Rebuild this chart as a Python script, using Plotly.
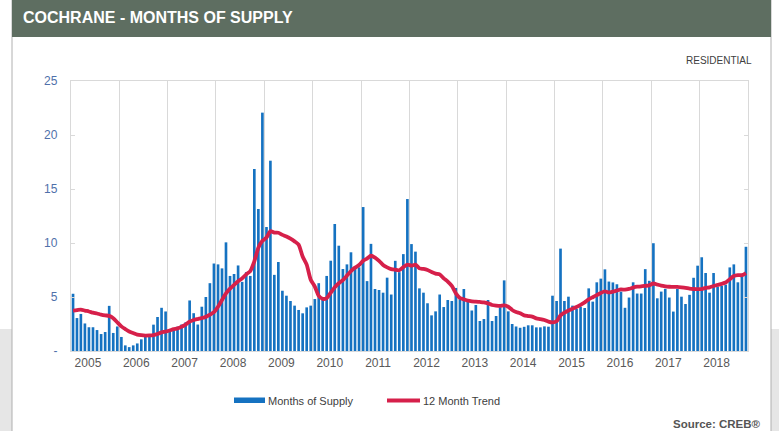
import pandas as pd
import plotly.graph_objects as go

# Cochrane residential months of supply, Jan 2005 - Dec 2018 (one row per year)
years = list(range(2005, 2019))
months_of_supply = [
    5.30, 3.05, 3.43, 2.55, 2.20, 2.20, 1.94, 1.57, 1.76, 4.18, 1.67, 2.27,    # 2005
    1.30, 0.52, 0.36, 0.52, 0.70, 1.08, 1.33, 1.55, 2.44, 3.15, 4.00, 3.66,    # 2006
    2.00, 2.10, 2.25, 2.45, 2.65, 4.68, 3.50, 2.45, 4.10, 5.00, 6.28, 8.10,    # 2007
    8.02, 7.65, 10.06, 6.95, 7.13, 7.92, 6.40, 7.30, 6.95, 16.85, 13.15, 22.07,  # 2008
    11.48, 17.62, 7.05, 8.24, 5.58, 5.12, 4.63, 4.20, 3.80, 3.49, 4.04, 4.20,  # 2009
    4.81, 6.28, 4.80, 6.95, 8.36, 11.76, 9.75, 7.59, 8.02, 9.14, 7.60, 7.75,   # 2010
    13.33, 6.47, 9.92, 5.74, 5.65, 5.40, 6.79, 5.23, 8.35, 7.30, 8.97, 14.07,  # 2011
    9.90, 9.20, 5.80, 5.40, 4.42, 3.30, 3.67, 5.23, 4.07, 4.72, 4.63, 5.84,    # 2012
    4.80, 5.74, 4.55, 3.75, 4.26, 2.78, 2.96, 4.72, 2.78, 3.24, 4.05, 6.54,    # 2013
    3.67, 2.50, 2.27, 2.15, 2.24, 2.38, 2.38, 2.19, 2.19, 2.28, 2.25, 5.12,    # 2014
    4.63, 9.48, 4.63, 5.03, 4.20, 3.89, 4.10, 3.98, 5.80, 4.57, 6.36, 6.70,    # 2015
    7.56, 6.43, 6.35, 6.18, 5.50, 4.00, 4.95, 6.36, 5.32, 5.32, 7.58, 6.50,    # 2016
    9.98, 4.88, 5.50, 5.75, 4.95, 3.65, 5.75, 5.03, 4.35, 5.20, 6.78, 7.90,    # 2017
    8.68, 7.22, 5.40, 7.22, 5.96, 6.04, 6.14, 7.74, 8.02, 6.36, 7.00, 9.65,    # 2018
]
trend_12m = [
    3.73, 3.78, 3.84, 3.74, 3.66, 3.55, 3.47, 3.37, 3.30, 3.25, 3.04, 2.66,    # 2005
    2.28, 2.03, 1.80, 1.66, 1.52, 1.46, 1.43, 1.44, 1.47, 1.57, 1.73, 1.79,    # 2006
    1.90, 2.02, 2.10, 2.25, 2.45, 2.72, 2.87, 2.96, 3.05, 3.16, 3.36, 3.60,    # 2007
    4.10, 4.72, 5.34, 5.77, 6.12, 6.45, 6.73, 7.10, 7.40, 8.30, 9.55, 10.20,   # 2008
    10.50, 11.10, 10.96, 10.95, 10.75, 10.60, 10.40, 10.15, 9.85, 8.75, 8.00, 6.60,  # 2009
    5.96, 5.10, 4.83, 4.90, 5.40, 5.90, 6.27, 6.57, 6.98, 7.40, 7.72, 7.96,    # 2010
    8.36, 8.56, 8.82, 8.65, 8.35, 7.96, 7.74, 7.58, 7.52, 7.48, 7.77, 8.00,    # 2011
    7.90, 8.00, 7.65, 7.60, 7.50, 7.31, 7.16, 7.10, 6.73, 6.42, 6.02, 5.34,    # 2012
    4.91, 4.78, 4.66, 4.60, 4.57, 4.54, 4.50, 4.41, 4.26, 4.20, 4.17, 4.23,    # 2013
    4.10, 3.80, 3.61, 3.49, 3.30, 3.24, 3.18, 3.02, 2.96, 2.87, 2.72, 2.65,    # 2014
    2.75, 3.30, 3.55, 3.75, 3.92, 4.07, 4.27, 4.50, 4.78, 4.98, 5.18, 5.38,    # 2015
    5.52, 5.42, 5.50, 5.60, 5.70, 5.68, 5.75, 5.87, 5.95, 5.98, 6.03, 6.08,    # 2016
    6.25, 6.15, 6.05, 5.99, 5.95, 5.93, 5.94, 5.90, 5.85, 5.78, 5.74, 5.72,    # 2017
    5.74, 5.85, 5.90, 6.02, 6.12, 6.22, 6.34, 6.65, 6.94, 7.02, 7.02, 7.22,    # 2018
]
y_ticks = [0, 5, 10, 15, 20, 25]
y_tick_text = ["-", "5", "10", "15", "20", "25"]

months = pd.date_range(f"{years[0]}-01-01", periods=len(months_of_supply), freq="MS")

# page geometry (pixels) and helpers to place decorations in paper coordinates
W, H = 779, 431
ML, MR, MT, MB = 71, 31, 81, 80
PW, PH = W - ML - MR, H - MT - MB


def px(x):
    return (x - ML) / PW


def py(y):
    return (H - MB - y) / PH


BLUE = "#1572c1"
RED = "#d6204a"
GRID = "#d9d9d9"
TEXT = "#595959"
NARROW = "Liberation Sans Narrow, Arial Narrow, Liberation Sans, Arial, sans-serif"
SANS = "Liberation Sans, Arial, sans-serif"

fig = go.Figure()
fig.add_trace(go.Bar(
    x=months, y=months_of_supply, name="Months of Supply",
    xperiod="M1", xperiodalignment="middle",
    marker=dict(color=BLUE, line=dict(width=0)), showlegend=False,
))
fig.add_trace(go.Scatter(
    x=months, y=trend_12m, name="12 Month Trend", mode="lines",
    xperiod="M1", xperiodalignment="middle",
    line=dict(color=RED, width=3.8, shape="spline", smoothing=0.6),
    showlegend=False,
))

year_starts = [f"{y}-01-01" for y in years[1:]]
label_pos = [f"{y}-05-09" for y in years]

fig.update_xaxes(
    range=[f"{years[0]}-01-01", f"{years[-1] + 1}-01-01"],
    tickmode="array", tickvals=label_pos, ticktext=[str(y) for y in years],
    showgrid=False, ticks="", tickfont=dict(family=NARROW, size=12, color=TEXT),
    showline=True, linecolor=GRID, linewidth=1.3, mirror=True,
    minor=dict(tickmode="array", tickvals=year_starts, showgrid=True,
               gridcolor=GRID, gridwidth=1.4, ticks=""),
    zeroline=False,
)
fig.update_yaxes(
    range=[0, 25], tickmode="array", tickvals=y_ticks, ticktext=y_tick_text,
    showgrid=False, zeroline=False,
    ticks="inside", ticklen=4, tickcolor=GRID, tickwidth=1.2,
    showline=True, linecolor=GRID, linewidth=1.3, mirror="ticks",
    tickfont=dict(family=NARROW, size=12, color="#4f70aa"),
    ticklabelstandoff=10,
)

shapes = [
    # light grey page band along the bottom
    dict(type="rect", xref="paper", yref="paper", x0=px(0), x1=px(W), y0=py(329), y1=py(H),
         fillcolor="#e6e6e6", line=dict(width=0), layer="below"),
    # white card
    dict(type="rect", xref="paper", yref="paper", x0=px(12), x1=px(771), y0=py(0), y1=py(H + 2),
         fillcolor="white", line=dict(color="#b0b0b0", width=1), layer="below"),
    # header band
    dict(type="rect", xref="paper", yref="paper", x0=px(12), x1=px(771), y0=py(0), y1=py(37),
         fillcolor="#5e6e61", line=dict(width=0), layer="below"),
    # legend swatches
    dict(type="rect", xref="paper", yref="paper", x0=px(234), x1=px(265), y0=py(397.5), y1=py(403),
         fillcolor=BLUE, line=dict(width=0)),
    dict(type="line", xref="paper", yref="paper", x0=px(387), x1=px(420), y0=py(400.5), y1=py(400.5),
         line=dict(color=RED, width=3.8)),
]

annotations = [
    dict(text="<b>COCHRANE - MONTHS OF SUPPLY</b>", x=px(21), y=py(18), xref="paper", yref="paper",
         xanchor="left", yanchor="middle", showarrow=False,
         font=dict(family=SANS, size=16, color="white")),
    dict(text="RESIDENTIAL", x=px(754), y=py(60), xref="paper", yref="paper",
         xanchor="right", yanchor="middle", showarrow=False,
         font=dict(family=NARROW, size=10, color="#404040")),
    dict(text="Months of Supply", x=px(266), y=py(400.5), xref="paper", yref="paper",
         xanchor="left", yanchor="middle", showarrow=False,
         font=dict(family=NARROW, size=11, color="#404040")),
    dict(text="12 Month Trend", x=px(421), y=py(400.5), xref="paper", yref="paper",
         xanchor="left", yanchor="middle", showarrow=False,
         font=dict(family=NARROW, size=11, color="#404040")),
    dict(text="<b>Source: CREB®</b>", x=px(763), y=py(424), xref="paper", yref="paper",
         xanchor="right", yanchor="middle", showarrow=False,
         font=dict(family=NARROW, size=11.5, color="#555555")),
]

fig.update_layout(
    width=W, height=H,
    margin=dict(l=ML, r=MR, t=MT, b=MB),
    paper_bgcolor="white", plot_bgcolor="rgba(0,0,0,0)",
    bargap=0.32, shapes=shapes, annotations=annotations,
    showlegend=False,
)

fig.write_html("out.html")
